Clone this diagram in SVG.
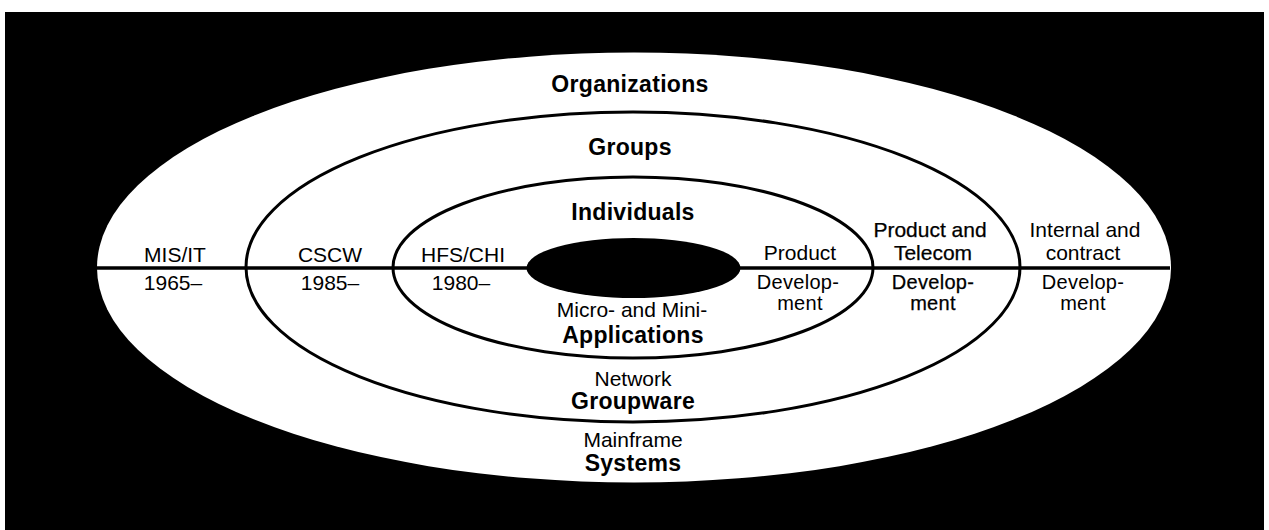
<svg xmlns="http://www.w3.org/2000/svg" width="1269" height="530" viewBox="0 0 1269 530">
<style>
text{font-family:"Liberation Sans",Arial,sans-serif;fill:#000;text-anchor:middle}
.b{font-weight:bold;font-size:23px;letter-spacing:0.3px}
.r{font-size:21px}
.s{font-size:20px;letter-spacing:0.3px}
.m{stroke:#000;stroke-width:0.25}
.ring{fill:none;stroke:#000;stroke-width:3}
</style>
<rect x="0" y="0" width="1269" height="530" fill="#fff"/>
<rect x="5" y="12" width="1259" height="518" fill="#000"/>
<g id="organizations">
<ellipse cx="634" cy="267.5" rx="537" ry="215" fill="#fff"/>
<text class="b" x="630" y="92">Organizations</text>
<text class="r" x="633" y="447">Mainframe</text>
<text class="b" x="633" y="471">Systems</text>
</g>
<g id="groups">
<ellipse class="ring" cx="633" cy="267" rx="387" ry="155"/>
<text class="b" x="630" y="155">Groups</text>
<text class="r" x="633" y="386">Network</text>
<text class="b" x="633" y="409">Groupware</text>
</g>
<g id="individuals">
<ellipse class="ring" cx="633" cy="267.5" rx="240" ry="90.5"/>
<text class="b" x="633" y="220">Individuals</text>
<text class="r" x="632" y="317">Micro- and Mini-</text>
<text class="b" x="633" y="343">Applications</text>
</g>
<g id="connectors">
<line x1="97" y1="268" x2="1170" y2="268" stroke="#000" stroke-width="3.5"/>
</g>
<g id="core">
<ellipse cx="633.5" cy="268" rx="107" ry="30" fill="#000"/>
</g>
<g id="left-labels">
<text class="r" x="175" y="262">MIS/IT</text>
<text class="r" x="173" y="290">1965–</text>
<text class="r" x="330" y="262">CSCW</text>
<text class="r" x="330" y="290">1985–</text>
<text class="r" x="463" y="262">HFS/CHI</text>
<text class="r" x="461" y="290">1980–</text>
</g>
<g id="right-labels">
<text class="r" x="800" y="260">Product</text>
<text class="s" x="798" y="289">Develop-</text>
<text class="s" x="800" y="310">ment</text>
<text class="r m" x="930" y="237">Product and</text>
<text class="r m" x="933" y="260">Telecom</text>
<text class="s m" x="933" y="289">Develop-</text>
<text class="s m" x="933" y="310">ment</text>
<text class="r" x="1085" y="237">Internal and</text>
<text class="r" x="1083" y="260">contract</text>
<text class="s" x="1083" y="289">Develop-</text>
<text class="s" x="1083" y="310">ment</text>
</g>
</svg>
